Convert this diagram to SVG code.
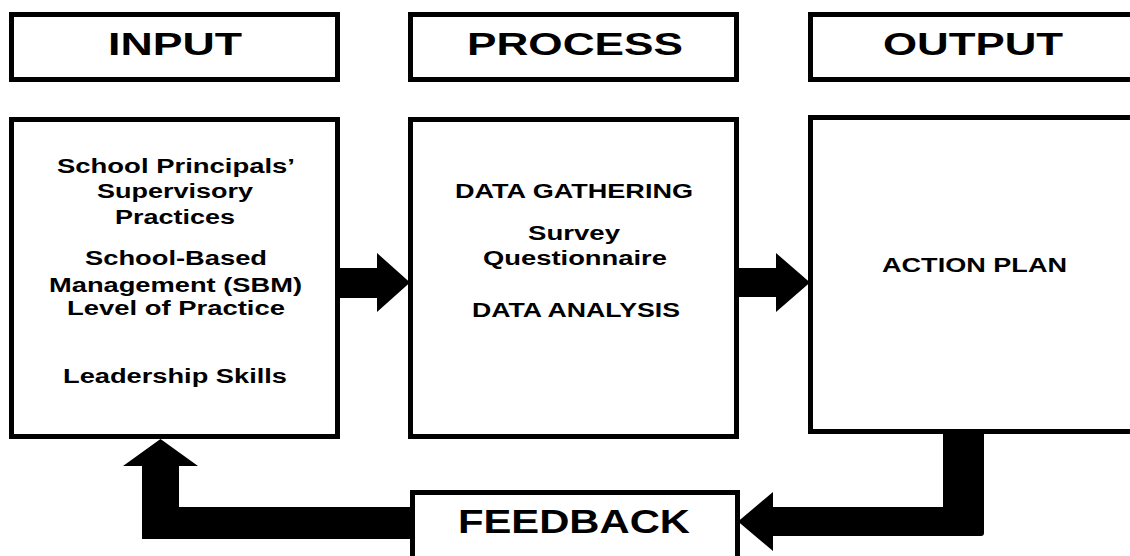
<svg xmlns="http://www.w3.org/2000/svg" width="1130" height="556" viewBox="0 0 1130 556">
  <style>
    .box { fill: #ffffff; stroke: #000000; stroke-width: 5; }
    .hdr { font-family: "Liberation Sans", Arial, sans-serif; font-weight: bold; font-size: 32px; fill: #000; text-anchor: middle; }
    .txt { font-family: "Liberation Sans", Arial, sans-serif; font-weight: bold; font-size: 20px; fill: #000; text-anchor: middle; }
    .arrow { fill: #000000; stroke: none; }
  </style>
  <rect width="1130" height="556" fill="#ffffff"/>

  <!-- column headers -->
  <g id="input-header">
    <rect class="box" x="11.5" y="14.5" width="326" height="65"/>
    <text class="hdr" x="175" y="55" textLength="134" lengthAdjust="spacingAndGlyphs">INPUT</text>
  </g>
  <g id="process-header">
    <rect class="box" x="410.5" y="14.5" width="326" height="65"/>
    <text class="hdr" x="575" y="55" textLength="216" lengthAdjust="spacingAndGlyphs">PROCESS</text>
  </g>
  <g id="output-header">
    <rect class="box" x="810.5" y="14.5" width="400" height="65"/>
    <text class="hdr" x="973" y="55" textLength="180" lengthAdjust="spacingAndGlyphs">OUTPUT</text>
  </g>

  <!-- input block -->
  <g id="input">
    <rect class="box" x="11.5" y="119.5" width="326" height="317"/>
    <text class="txt" x="176" y="173" textLength="238" lengthAdjust="spacingAndGlyphs">School Principals’</text>
    <text class="txt" x="175" y="198" textLength="156" lengthAdjust="spacingAndGlyphs">Supervisory</text>
    <text class="txt" x="175" y="224" textLength="120" lengthAdjust="spacingAndGlyphs">Practices</text>
    <text class="txt" x="176" y="265" textLength="182" lengthAdjust="spacingAndGlyphs">School-Based</text>
    <text class="txt" x="175.5" y="292" textLength="253" lengthAdjust="spacingAndGlyphs">Management (SBM)</text>
    <text class="txt" x="176" y="315" textLength="218" lengthAdjust="spacingAndGlyphs">Level of Practice</text>
    <text class="txt" x="175" y="383" textLength="224" lengthAdjust="spacingAndGlyphs">Leadership Skills</text>
  </g>

  <!-- process block -->
  <g id="process">
    <rect class="box" x="410.5" y="119.5" width="326" height="317"/>
    <text class="txt" x="574" y="198" textLength="238" lengthAdjust="spacingAndGlyphs">DATA GATHERING</text>
    <text class="txt" x="574" y="240" textLength="92" lengthAdjust="spacingAndGlyphs">Survey</text>
    <text class="txt" x="575" y="265" textLength="184" lengthAdjust="spacingAndGlyphs">Questionnaire</text>
    <text class="txt" x="576" y="317" textLength="208" lengthAdjust="spacingAndGlyphs">DATA ANALYSIS</text>
  </g>

  <!-- output block -->
  <g id="output">
    <rect class="box" x="810.5" y="117.5" width="400" height="314"/>
    <text class="txt" x="974.5" y="272" textLength="185" lengthAdjust="spacingAndGlyphs">ACTION PLAN</text>
  </g>

  <!-- feedback block -->
  <g id="feedback">
    <rect class="box" x="412.5" y="492.5" width="325" height="80"/>
    <text class="hdr" x="574" y="533" style="font-size:34px" textLength="232" lengthAdjust="spacingAndGlyphs">FEEDBACK</text>
  </g>

  <!-- block arrows -->
  <g id="connectors">
    <path class="arrow" d="M340,268 H377 V253 L410,282.5 L377,312 V298 H340 Z"/>
    <path class="arrow" d="M738,268 H776 V253 L810,282.5 L776,312 V297 H738 Z"/>
    <path class="arrow" d="M943,432 H984 V533 Q984,536 981,536 H773 V551 L738,521.5 L773,492 V507 H943 Z"/>
    <path class="arrow" d="M415,507 V539 H142 V466 H123 L160.5,439 L198,466 H179 V507 Z"/>
  </g>
</svg>
